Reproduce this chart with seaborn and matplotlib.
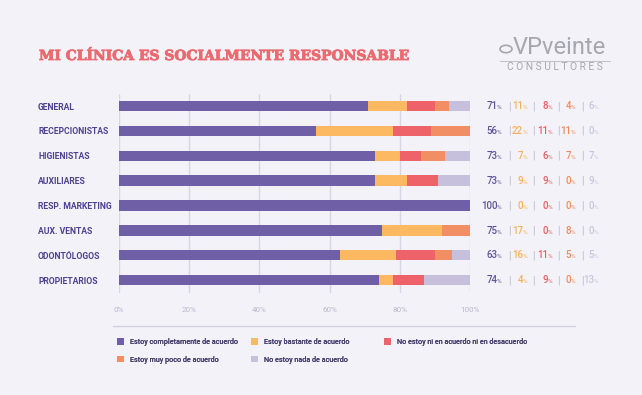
import matplotlib
matplotlib.use("Agg")
import matplotlib.pyplot as plt
import seaborn as sns
import pandas as pd
from matplotlib.patches import Patch, Circle
from matplotlib.lines import Line2D
import matplotlib.patheffects as pe

# ---------------- data ----------------
categories = ["GENERAL", "RECEPCIONISTAS", "HIGIENISTAS", "AUXILIARES",
              "RESP. MARKETING", "AUX. VENTAS", "ODONTÓLOGOS", "PROPIETARIOS"]
completamente = [71, 56, 73, 73, 100, 75, 63, 74]
bastante = [11, 22, 7, 9, 0, 17, 16, 4]
ni_ni = [8, 11, 6, 9, 0, 0, 11, 9]
muy_poco = [4, 11, 7, 0, 0, 8, 5, 0]
nada = [6, 0, 7, 9, 0, 0, 5, 13]
series_names = ["Estoy completamente de acuerdo", "Estoy bastante de acuerdo",
                "No estoy ni en acuerdo ni en desacuerdo",
                "Estoy muy poco de acuerdo", "No estoy nada de acuerdo"]
tick_values = [0, 20, 40, 60, 80, 100]
tick_labels = ["0%", "20%", "40%", "60%", "80%", "100%"]
title = "MI CLÍNICA ES SOCIALMENTE RESPONSABLE"

# ---------------- style ----------------
bg = "#f3f2f8"
colors = ["#6e5fa6", "#fcb962", "#ee636a", "#f28e63", "#c6c0dc"]
label_colors = ["#5e5398", "#f6b157", "#ea5d66", "#ef8a5e", "#c9c5dc"]
sns.set_style("white", rc={"axes.facecolor": bg, "figure.facecolor": bg})
plt.rcParams["font.family"] = ["Roboto", "DejaVu Sans"]

W, H = 642, 395
fig = plt.figure(figsize=(W / 100, H / 100), dpi=100)
ax = fig.add_axes([119 / W, (H - 293) / H, 351 / W, (293 - 93.6) / H])
ax.set_facecolor(bg)

series = [completamente, bastante, ni_ni, muy_poco, nada]
df = pd.DataFrame({"cat": categories})
cum = [0] * len(categories)
for k, s in enumerate(series):
    cum = [c + v for c, v in zip(cum, s)]
    df[f"cum{k}"] = cum

# draw cumulative bars from the full total down so each segment shows
for k in range(len(series) - 1, -1, -1):
    sns.barplot(data=df, x=f"cum{k}", y="cat", orient="h", color=colors[k],
                saturation=1, width=0.42, linewidth=0, errorbar=None, ax=ax)

ax.set_xlim(0, 100)
ax.set_ylim(7.52, -0.5)
ax.set_xlabel("")
ax.set_ylabel("")
for sp in ax.spines.values():
    sp.set_visible(False)
ax.set_xticks(tick_values)
ax.set_xticklabels(tick_labels, fontsize=5.8, color="#bab7cc")
ax.tick_params(axis="x", length=0, pad=10)
ax.grid(axis="x", color="#d8d6e5", linewidth=1)
ax.grid(axis="y", visible=False)
ax.set_axisbelow(True)

ax.set_yticks(range(len(categories)))
ax.set_yticklabels(categories, ha="left", fontsize=6.2, fontweight="bold",
                   color="#4e4291")
ax.tick_params(axis="y", length=0, pad=58.3)

# ---------------- right-hand value columns ----------------
px = 351 / 100.0  # pixels per percent
def dx(xpix):
    return (xpix - 119) / px

anchors = [dx(497.5), dx(523), dx(548), dx(571), dx(594)]
seps = [dx(509), dx(533), dx(558), dx(582)]
for i in range(len(categories)):
    yb = i + 0.13
    for k, s in enumerate(series):
        ax.text(anchors[k], yb, f"{s[i]}", ha="right", va="baseline",
                fontsize=7.0, color=label_colors[k], clip_on=False,
                fontweight="medium")
        ax.text(anchors[k] - 0.15, yb, "%", ha="left", va="baseline",
                fontsize=4.5, color=label_colors[k], clip_on=False)
    for sx in seps:
        ax.text(sx, i, "|", ha="center", va="center", fontsize=7.5,
                color="#b9b7c9", clip_on=False)

# ---------------- title & logo ----------------
fig.text(39 / W, 1 - 56 / H, title, fontsize=10.0, fontweight="bold",
         family=["DejaVu Serif"], color="#ea6a70", ha="left", va="center",
         path_effects=[pe.withStroke(linewidth=0.6, foreground="#ea6a70")])
fig.text(513 / W, 1 - 48 / H, "VPveinte", fontsize=17, color="#a6a6ae",
         ha="left", va="center")
fig.add_artist(Circle((506 / W, 1 - 49 / H), 6 / W, transform=fig.transFigure,
                      fill=False, edgecolor="#a6a6ae", linewidth=1.2))
fig.add_artist(Line2D([500 / W, 610 / W], [1 - 61 / H, 1 - 61 / H],
                      transform=fig.transFigure, color="#c3c3ca", linewidth=0.8))
fig.text(555 / W, 1 - 67.5 / H, "C O N S U L T O R E S", fontsize=7.4,
         color="#a6a6ae", ha="center", va="center")

# separator above legend
fig.add_artist(Line2D([113 / W, 575 / W], [1 - 326 / H, 1 - 326 / H],
                      transform=fig.transFigure, color="#d3d1df", linewidth=1))

# ---------------- legend ----------------
leg_pos = [(117, 342), (251, 342), (384, 342), (117, 359.5), (251, 359.5)]
leg_order = [0, 1, 2, 3, 4]
for k, (lx, ly) in zip(leg_order, leg_pos):
    lg = fig.legend(handles=[Patch(facecolor=colors[k], edgecolor="none")],
                    labels=[series_names[k]], loc="center left",
                    bbox_to_anchor=(lx / W, 1 - ly / H), frameon=False,
                    borderpad=0, borderaxespad=0, handlelength=0.95,
                    handleheight=0.95, handletextpad=0.9,
                    labelcolor="#4a4270",
                    prop={"size": 5.2, "weight": "medium"})
    fig.add_artist(lg)

fig.savefig("out.png", dpi=100, facecolor=bg)
